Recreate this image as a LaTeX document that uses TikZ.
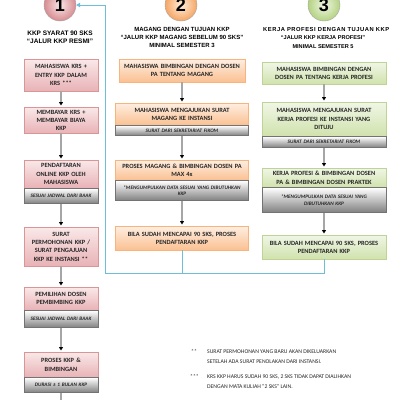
\documentclass[tikz,border=0pt]{standalone}
\usepackage{fontspec}
\setmainfont{Carlito}
\newfontfamily\hdfont{Liberation Sans}
\newfontfamily\hdwide{Liberation Sans}[LetterSpace=9]
\usepackage{tikz}
\usetikzlibrary{arrows.meta,positioning,shadows}

\definecolor{pinktop}{RGB}{250,232,232}
\definecolor{pinkbot}{RGB}{232,178,182}
\definecolor{pinkline}{RGB}{218,150,150}
\definecolor{orgtop}{RGB}{254,238,225}
\definecolor{orgbot}{RGB}{250,192,145}
\definecolor{orgline}{RGB}{247,180,125}
\definecolor{grntop}{RGB}{240,246,230}
\definecolor{grnbot}{RGB}{208,226,172}
\definecolor{grnline}{RGB}{190,212,150}
\definecolor{lineblue}{RGB}{110,190,215}

\begin{document}
\begin{tikzpicture}[x=1pt,y=-1pt,
  box/.style={align=center,inner sep=2pt,anchor=north,text=black!85,
    font=\fontsize{6.4}{8.3}\selectfont\bfseries,
    drop shadow={opacity=.3,shadow xshift=.8pt,shadow yshift=-.8pt}},
  kkp/.style={box,draw=pinkline,top color=pinktop,bottom color=pinkbot,text width=70pt},
  mag/.style={box,draw=orgline,top color=orgtop,bottom color=orgbot,text width=129pt},
  kp/.style={box,draw=grnline,top color=grntop,bottom color=grnbot,text width=120pt},
  ket/.style={draw=black!55,top color=white,bottom color=black!50,align=center,
    inner sep=1pt,text width=#1,text=black!85,
    font=\fontsize{5.2}{6.6}\selectfont\bfseries\itshape,
    drop shadow={opacity=.3,shadow xshift=.8pt,shadow yshift=-.8pt}},
  nomor/.style={circle,draw=black!35,minimum size=32pt,inner sep=0pt,
    font=\hdfont\fontsize{18}{18}\selectfont\bfseries},
  judul/.style={align=center,inner sep=0pt,font=\hdfont\fontsize{6}{8.4}\selectfont\bfseries},
  alur/.style={draw=black!35,line width=1.2pt,
    -{Triangle[length=3.5pt,width=4pt,color=black]},shorten >=1.5pt},
  balik/.style={draw=lineblue,line width=.9pt},
  catatan/.style={align=left,inner sep=0pt,anchor=north west,text=black!85,
    font=\fontsize{5.7}{10}\selectfont}]
\useasboundingbox (0,0) rectangle (400,400);

% nomor jalur
\node[nomor,shading=radial,inner color={rgb,255:red,250;green,230;blue,230},
  outer color={rgb,255:red,215;green,140;blue,145}] (n1) at (60,5) {\raisebox{-2.6pt}{1}};
\node[nomor,shading=radial,inner color={rgb,255:red,255;green,238;blue,220},
  outer color={rgb,255:red,245;green,165;blue,100}] (n2) at (181,5) {\raisebox{-2.6pt}{2}};
\node[nomor,shading=radial,inner color={rgb,255:red,240;green,247;blue,228},
  outer color={rgb,255:red,180;green,210;blue,130}] (n3) at (324,5) {\raisebox{-2.6pt}{3}};

% judul
\node[judul,font=\hdfont\fontsize{6.5}{8.4}\selectfont\bfseries] (h1) at (60,37) {KKP SYARAT 90 SKS\\“JALUR KKP RESMI”};
\node[judul] (h2) at (182,37.5) {MAGANG DENGAN TUJUAN KKP\\“JALUR KKP MAGANG SEBELUM 90 SKS”\\MINIMAL SEMESTER 3};
\node[judul,font=\hdfont\fontsize{5.6}{8.4}\selectfont\bfseries] (h3) at (323,42) {“JALUR KKP KERJA PROFESI”\\MINIMAL SEMESTER 5};
\node[judul,anchor=west,font=\hdwide\fontsize{5.8}{8.4}\selectfont\bfseries] (h3a) at (263,29) {KERJA PROFESI DENGAN TUJUAN KKP};

% jalur 1
\node[kkp,minimum height=32pt] (a1) at (61,59) {MAHASISWA KRS +\\ENTRY KKP DALAM\\KRS ***};
\node[kkp,minimum height=26pt] (a2) at (61,107) {MEMBAYAR KRS +\\MEMBAYAR BIAYA\\KKP};
\node[kkp,minimum height=28pt] (a3) at (61,160) {PENDAFTARAN\\ONLINE KKP OLEH\\MAHASISWA};
\node[ket=72pt,minimum height=15pt,below=0pt of a3] (a3k) {SESUAI JADWAL DARI BAAK};
\node[kkp,minimum height=39pt] (a4) at (61,227) {SURAT\\PERMOHONAN KKP /\\SURAT PENGAJUAN\\KKP KE INSTANSI **};
\node[kkp,minimum height=23pt] (a5) at (61,287) {PEMILIHAN DOSEN\\PEMBIMBING KKP};
\node[ket=72pt,minimum height=17pt,below=0pt of a5] (a5k) {SESUAI JADWAL DARI BAAK};
\node[kkp,minimum height=25pt] (a6) at (61,352) {PROSES KKP \&\\BIMBINGAN};
\node[ket=72pt,minimum height=15pt,below=0pt of a6] (a6k) {DURASI ± 1 BULAN KKP};
\coordinate (a7) at (61,400);

\draw[alur] (a1) -- (a2);
\draw[alur] (a2) -- (a3);
\draw[alur] (a3k) -- (a4);
\draw[alur] (a4) -- (a5);
\draw[alur] (a5k) -- (a6);
\draw[draw=black!35,line width=1.2pt] (a6k) -- (a7);

% jalur 2
\node[mag,text width=122pt,minimum height=23pt] (b1) at (182,59) {MAHASISWA BIMBINGAN DENGAN DOSEN\\PA TENTANG MAGANG};
\node[mag,minimum height=22pt] (b2) at (182,103) {MAHASISWA MENGAJUKAN SURAT\\MAGANG KE INSTANSI};
\node[ket=131pt,minimum height=10pt,below=0pt of b2] (b2k) {SURAT DARI SEKRETARIAT FIKOM};
\node[mag,minimum height=20pt] (b3) at (182,160) {PROSES MAGANG \& BIMBINGAN DOSEN PA\\MAX 4x};
\node[ket=131pt,minimum height=20pt,below=0pt of b3] (b3k) {*MENGUMPULKAN DATA SESUAI YANG DIBUTUHKAN\\KKP};
\node[mag,minimum height=24pt] (b4) at (182,226) {BILA SUDAH MENCAPAI 90 SKS, PROSES\\PENDAFTARAN KKP};

\draw[alur] (b1) -- (b2);
\draw[alur] (b2k) -- (b3);
\draw[alur] (b3k) -- (b4);

% jalur 3
\node[kp,minimum height=22pt] (c1) at (324,62) {MAHASISWA BIMBINGAN DENGAN\\DOSEN PA TENTANG KERJA PROFESI};
\node[kp,minimum height=34pt] (c2) at (324,102) {MAHASISWA MENGAJUKAN SURAT\\KERJA PROFESI KE INSTANSI YANG\\DITUJU};
\node[ket=122pt,minimum height=11pt,below=0pt of c2] (c2k) {SURAT DARI SEKRETARIAT FIKOM};
\node[kp,minimum height=19pt] (c3) at (324,168) {KERJA PROFESI \& BIMBINGAN DOSEN\\PA \& BIMBINGAN DOSEN PRAKTEK};
\node[ket=122pt,minimum height=25pt,below=0pt of c3] (c3k) {*MENGUMPULKAN DATA SESUAI YANG\\DIBUTUHKAN KKP};
\node[kp,minimum height=24pt] (c4) at (324,235) {BILA SUDAH MENCAPAI 90 SKS, PROSES\\PENDAFTARAN KKP};

\draw[alur] (c1) -- (c2);
\draw[alur] (c2k) -- (c3);
\draw[alur] (c3k) -- (c4);

% kembali ke jalur 1
\coordinate (j2) at (182,273);
\coordinate (j3) at (324,273);
\coordinate (jl) at (105,273);
\coordinate (jt) at (105,5);
\draw[balik] (b4) -- (j2);
\draw[balik] (c4) -- (j3) -- (jl) -- (jt);
\draw[balik,-{Triangle[length=4pt,width=4.5pt]}] (jt) -- (n1);

% catatan
\node[catatan] (m2) at (191,349.5) {**};
\node[catatan] (t2) at (207,349.5) {SURAT PERMOHONAN YANG BARU AKAN DIKELUARKAN\\SETELAH ADA SURAT PENOLAKAN DARI INSTANSI.};
\node[catatan] (m3) at (190,374.5) {***};
\node[catatan] (t3) at (207,374.5) {KRS KKP HARUS SUDAH 90 SKS, 2 SKS TIDAK DAPAT DIALIHKAN\\DENGAN MATA KULIAH “2 SKS” LAIN.};
\end{tikzpicture}
\end{document}
